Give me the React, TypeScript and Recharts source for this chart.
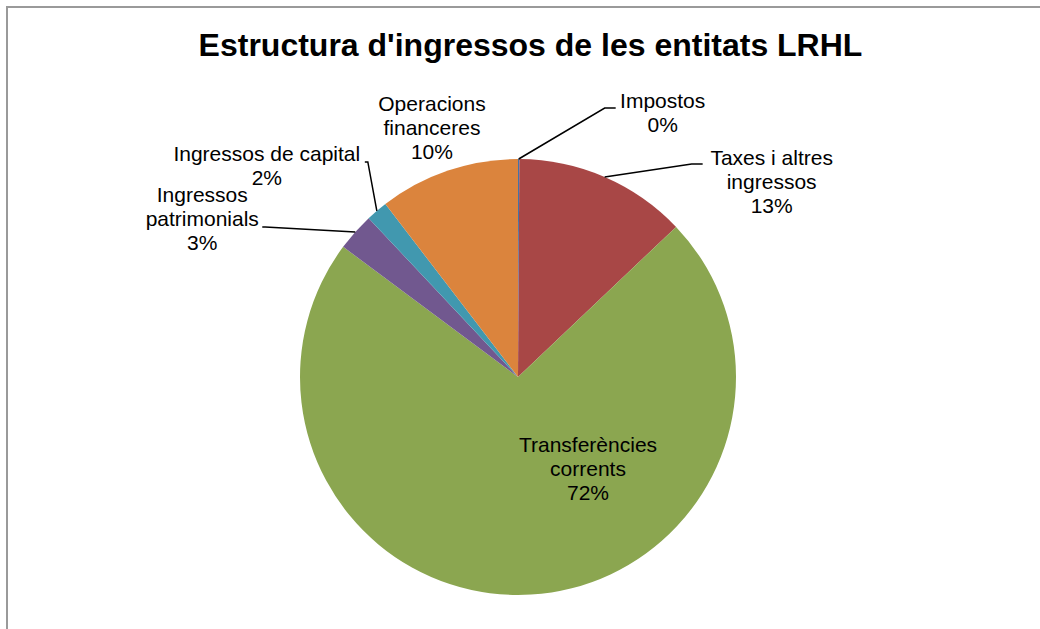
import { PieChart, Pie, Cell } from "recharts";

const CATEGORIES = [
  "Impostos",
  "Taxes i altres ingressos",
  "Transferències corrents",
  "Ingressos patrimonials",
  "Ingressos de capital",
  "Operacions financeres",
];
// share of total income, %
const SHARES = [0.1, 12.8, 72.2, 2.8, 1.6, 10.4];
const LABEL_LINES = [
  ["Impostos"],
  ["Taxes i altres", "ingressos"],
  ["Transferències", "corrents"],
  ["Ingressos", "patrimonials"],
  ["Ingressos de capital"],
  ["Operacions", "financeres"],
];
const COLORS = ["#4572A7", "#A84746", "#8BA650", "#71588F", "#4198AF", "#DB843D"];

// label placement, relative to the point on the rim at the slice middle
const LABEL_POS = [
  { tx: 144, ty: -51, ex: 86, ey: -51, hook: 11 },
  { tx: 167, ty: -12, ex: 87, ey: -13, hook: 11 },
  { tx: 57, ty: -143 },
  { tx: -153, ty: -30, ex: -90, ey: -5, hook: -3 },
  { tx: -110, ty: -50, ex: -9, ey: -49, hook: -3 },
  { tx: -16, ty: -60 },
];

const FONT = "Arial, 'Liberation Sans', sans-serif";
const RAD = Math.PI / 180;
const LINE_H = 24;

const data = CATEGORIES.map((name, i) => ({ name, value: SHARES[i] }));

function renderLabel(props: any) {
  const { cx, cy, midAngle, outerRadius, percent, index } = props;
  const px = cx + outerRadius * Math.cos(-midAngle * RAD);
  const py = cy + outerRadius * Math.sin(-midAngle * RAD);
  const pos = LABEL_POS[index];
  const lines = [...LABEL_LINES[index], `${Math.round(percent * 100)}%`];
  const tx = px + pos.tx;
  const ty = py + pos.ty;
  return (
    <g key={`lbl-${index}`}>
      {pos.ex !== undefined && (
        <polyline
          points={`${px},${py} ${px + pos.ex},${py + pos.ey} ${px + pos.ex + pos.hook},${py + pos.ey}`}
          fill="none"
          stroke="#000"
          strokeWidth={1.5}
        />
      )}
      <text x={tx} y={ty} textAnchor="middle" fontSize={21} fontFamily={FONT} fill="#000">
        {lines.map((l, k) => (
          <tspan key={k} x={tx} y={ty + k * LINE_H}>
            {l}
          </tspan>
        ))}
      </text>
    </g>
  );
}

export default function App() {
  return (
    <div style={{ position: "fixed", left: 0, top: 0, width: 1040, height: 629, overflow: "hidden", background: "#fff" }}>
      <div
        style={{
          position: "absolute",
          left: 6,
          top: 6,
          width: 1100,
          height: 700,
          border: "2px solid #9a9a9a",
        }}
      />
      <div
        style={{
          position: "absolute",
          left: 0,
          top: 29,
          width: 1061,
          textAlign: "center",
          fontFamily: FONT,
          fontWeight: "bold",
          fontSize: 32,
          lineHeight: "32px",
          color: "#000",
        }}
      >
        Estructura d'ingressos de les entitats LRHL
      </div>
      <div style={{ position: "absolute", left: 0, top: 0 }}>
        <PieChart width={1040} height={629} margin={{ top: 0, right: 0, bottom: 0, left: 0 }}>
          <Pie
            data={data}
            dataKey="value"
            nameKey="name"
            cx={518}
            cy={377}
            outerRadius={218}
            startAngle={90}
            endAngle={-270}
            stroke="none"
            label={renderLabel}
            labelLine={false}
            isAnimationActive={false}
          >
            {data.map((d, i) => (
              <Cell key={d.name} fill={COLORS[i]} />
            ))}
          </Pie>
        </PieChart>
      </div>
    </div>
  );
}
